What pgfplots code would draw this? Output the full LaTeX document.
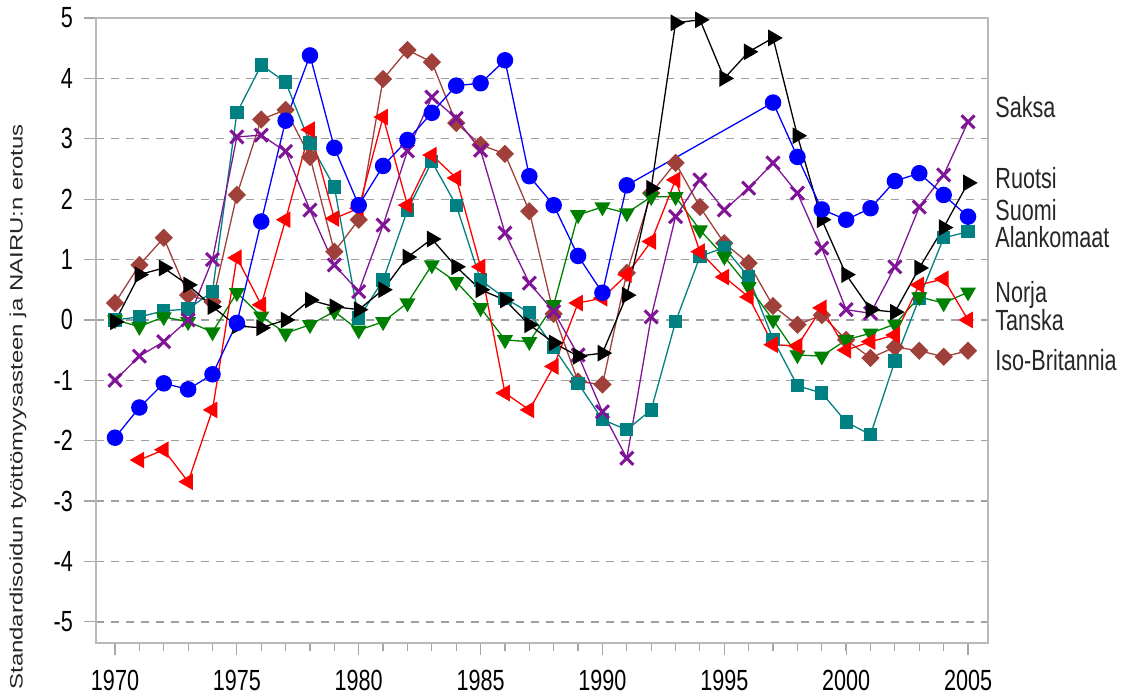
\documentclass[border=0pt]{standalone}
\usepackage{pgfplots}
\pgfplotsset{compat=1.18}
\usepackage{pgfplotstable}
\usepackage{fontspec}
\setmainfont{Liberation Sans}
\newcommand{\vs}[1]{\scalebox{1}[1.35]{#1}}
\definecolor{cSuomi}{RGB}{0,0,255}
\definecolor{cSaksa}{RGB}{128,20,150}
\definecolor{cRuotsi}{RGB}{0,0,0}
\definecolor{cAlank}{RGB}{0,128,128}
\definecolor{cNorja}{RGB}{0,128,0}
\definecolor{cTanska}{RGB}{255,0,0}
\definecolor{cIso}{RGB}{160,64,58}
\pgfplotstableread{
x y
1970 -1.95
1971 -1.45
1972 -1.05
1973 -1.15
1974 -0.9
1975 -0.05
1976 1.63
1977 3.3
1978 4.38
1979 2.85
1980 1.9
1981 2.55
1982 2.98
1983 3.43
1984 3.88
1985 3.92
1986 4.3
1987 2.38
1988 1.9
1989 1.06
1990 0.45
1991 2.23
1997 3.6
1998 2.7
1999 1.83
2000 1.66
2001 1.85
2002 2.3
2003 2.43
2004 2.07
2005 1.71
}\suomi
\pgfplotstableread{
x y
1970 -1.0
1971 -0.6
1972 -0.36
1973 0.0
1974 1.0
1975 3.03
1976 3.06
1977 2.79
1978 1.82
1979 0.91
1980 0.47
1981 1.57
1982 2.8
1983 3.69
1984 3.34
1985 2.81
1986 1.44
1987 0.61
1988 0.14
1989 -0.58
1990 -1.52
1991 -2.29
1992 0.05
1993 1.71
1994 2.32
1995 1.82
1996 2.18
1997 2.6
1998 2.1
1999 1.19
2000 0.17
2001 0.11
2002 0.88
2003 1.87
2004 2.4
2005 3.28
}\saksa
\pgfplotstableread{
x y
1970 -0.03
1971 0.75
1972 0.86
1973 0.58
1974 0.22
1975 -0.1
1976 -0.13
1977 0.0
1978 0.33
1979 0.22
1980 0.17
1981 0.5
1982 1.04
1983 1.34
1984 0.88
1985 0.5
1986 0.33
1987 -0.08
1988 -0.38
1989 -0.6
1990 -0.55
1991 0.41
1992 2.18
1993 4.92
1994 4.97
1995 4.0
1996 4.44
1997 4.67
1998 3.05
1999 1.66
2000 0.75
2001 0.17
2002 0.13
2003 0.86
2004 1.53
2005 2.27
}\ruotsi
\pgfplotstableread{
x y
1970 0.0
1971 0.05
1972 0.15
1973 0.18
1974 0.47
1975 3.43
1976 4.22
1977 3.94
1978 2.93
1979 2.2
1980 0.03
1981 0.66
1982 1.82
1983 2.62
1984 1.9
1985 0.66
1986 0.36
1987 0.12
1988 -0.46
1989 -1.05
1990 -1.65
1991 -1.82
1992 -1.49
1993 -0.03
1994 1.05
1995 1.2
1996 0.71
1997 -0.32
1998 -1.09
1999 -1.21
2000 -1.69
2001 -1.9
2002 -0.68
2003 0.36
2004 1.36
2005 1.46
}\alank
\pgfplotstableread{
x y
1970 0.0
1971 -0.11
1972 0.05
1973 -0.03
1974 -0.2
1975 0.45
1976 0.06
1977 -0.22
1978 -0.08
1979 0.14
1980 -0.17
1981 -0.03
1982 0.28
1983 0.91
1984 0.63
1985 0.2
1986 -0.33
1987 -0.36
1988 0.25
1989 1.74
1990 1.87
1991 1.77
1992 2.04
1993 2.04
1994 1.49
1995 1.05
1996 0.55
1997 0.0
1998 -0.58
1999 -0.6
2000 -0.33
2001 -0.22
2002 -0.07
2003 0.38
2004 0.28
2005 0.46
}\norja
\pgfplotstableread{
x y
1971 -2.32
1972 -2.15
1973 -2.68
1974 -1.49
1975 1.03
1976 0.25
1977 1.66
1978 3.15
1979 1.68
1980 1.85
1981 3.36
1982 1.9
1983 2.73
1984 2.35
1985 0.88
1986 -1.21
1987 -1.49
1988 -0.77
1989 0.28
1990 0.36
1991 0.75
1992 1.3
1993 2.32
1994 1.13
1995 0.71
1996 0.38
1997 -0.41
1998 -0.43
1999 0.2
2000 -0.5
2001 -0.36
2002 -0.25
2003 0.58
2004 0.68
2005 0.0
}\tanska
\pgfplotstableread{
x y
1970 0.28
1971 0.91
1972 1.36
1973 0.41
1974 0.3
1975 2.07
1976 3.32
1977 3.48
1978 2.7
1979 1.13
1980 1.66
1981 3.99
1982 4.47
1983 4.27
1984 3.26
1985 2.9
1986 2.75
1987 1.8
1988 0.1
1989 -1.02
1990 -1.07
1991 0.78
1992 2.1
1993 2.6
1994 1.87
1995 1.27
1996 0.94
1997 0.23
1998 -0.08
1999 0.08
2000 -0.33
2001 -0.63
2002 -0.45
2003 -0.51
2004 -0.61
2005 -0.51
}\iso
\begin{document}
\begin{tikzpicture}
\path[use as bounding box] (-48pt,-27pt) rectangle (516.5pt,321.5pt);
\begin{axis}[
  at={(0,0)}, anchor=south west,
  scale only axis, width=446pt, height=312.5pt,
  xmin=1969.22, xmax=2005.82, ymin=-5.35, ymax=5,
  xtick={1970,1975,...,2005},
  minor xtick={1971,...,2004},
  ytick={-5,...,5},
  tick align=outside,
  xtick pos=bottom, ytick pos=left,
  major tick length=6pt, minor tick length=4pt,
  every tick/.style={draw=gray!70, line width=0.6pt},
  axis line style={draw=gray!55, line width=0.8pt},
  ymajorgrids,
  grid style={draw=gray!75, line width=0.65pt, dash pattern=on 4pt off 3.5pt},
  /pgf/number format/assume math mode=true,
  /pgf/number format/1000 sep={},
  xticklabel={\vs{\pgfmathprintnumber[1000 sep={}]{\tick}}},
  yticklabel={\vs{\pgfmathprintnumber{\tick}}},
  xticklabel style={font=\fontsize{10.8}{12}\selectfont, yshift=-4pt},
  yticklabel style={font=\fontsize{10.8}{12}\selectfont, xshift=-2pt},
  clip=false,
  every axis plot/.append style={line width=0.65pt},
]
\addplot[cIso, mark=square*, mark size=2.9pt, mark options={rotate=45, fill=cIso, draw=cIso}] table {\iso};
\addplot[cAlank, mark=square*, mark size=3pt, mark options={fill=cAlank, draw=cAlank}] table {\alank};
\addplot[cNorja, mark=triangle*, mark size=4pt, mark options={rotate=180, fill=cNorja, draw=cNorja}] table {\norja};
\addplot[cTanska, mark=triangle*, mark size=4.2pt, mark options={rotate=90, fill=cTanska, draw=cTanska}] table {\tanska};
\addplot[cSaksa, mark=x, mark size=4.6pt, mark options={line width=1.5pt}] table {\saksa};
\addplot[cRuotsi, mark=triangle*, mark size=4.2pt, mark options={rotate=-90, fill=cRuotsi, draw=cRuotsi}] table {\ruotsi};
\addplot[cSuomi, mark=*, mark size=3.8pt, mark options={fill=cSuomi, draw=cSuomi}] table {\suomi};
\begin{scope}[every node/.style={anchor=west, inner sep=0pt, xshift=3.5pt, font=\fontsize{10.8}{12}\selectfont, text=black!85}]
\node at (axis cs:2005.82,3.53) {\vs{Saksa}};
\node at (axis cs:2005.82,2.35) {\vs{Ruotsi}};
\node at (axis cs:2005.82,1.82) {\vs{Suomi}};
\node at (axis cs:2005.82,1.37) {\vs{Alankomaat}};
\node at (axis cs:2005.82,0.42) {\vs{Norja}};
\node at (axis cs:2005.82,0.0) {\vs{Tanska}};
\node at (axis cs:2005.82,-0.66) {\vs{Iso-Britannia}};
\end{scope}
\end{axis}
\node[rotate=90, inner sep=0pt, text=black!85, anchor=west] at (-39pt,-23.5pt) {\fontsize{9}{10}\selectfont\scalebox{1.33}[1]{Standardisoidun työttömyysasteen ja NAIRU:n erotus}};
\end{tikzpicture}
\end{document}
